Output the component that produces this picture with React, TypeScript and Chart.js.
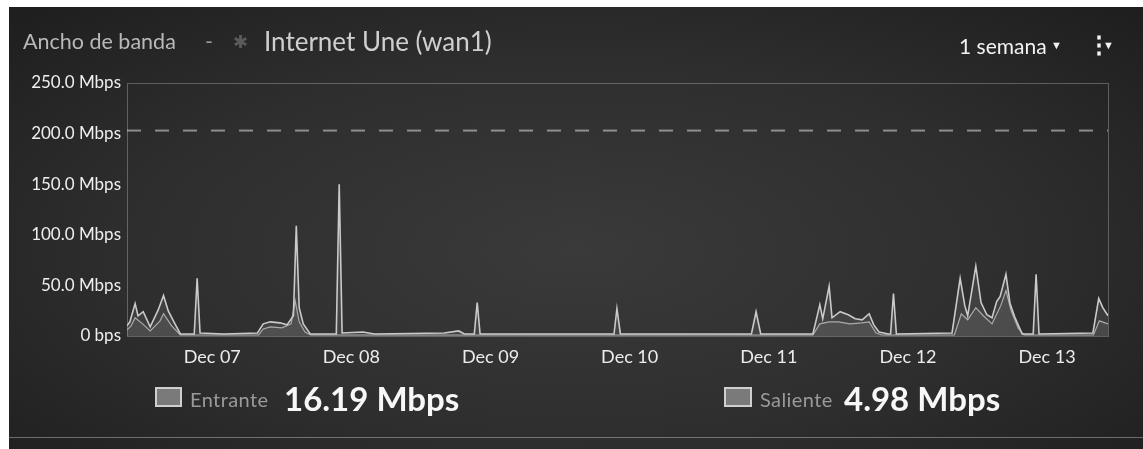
import React, { useEffect, useRef } from "react";
import { Chart, registerables } from "chart.js";

Chart.register(...registerables);

// ---- data (hours relative to Dec 07 00:00) ----
const rangeStartHour = -14.7;
const rangeEndHour = 154.5;

const dayHours = [0, 24, 48, 72, 96, 120, 144];
const dayLabels = ["Dec 07", "Dec 08", "Dec 09", "Dec 10", "Dec 11", "Dec 12", "Dec 13"];

const yTicks = [0, 50, 100, 150, 200, 250];
const yTickLabels = ["0 bps", "50.0 Mbps", "100.0 Mbps", "150.0 Mbps", "200.0 Mbps", "250.0 Mbps"];

const capacityMbps = 203;

const inHours = [
  -14.7, -14.2, -13.3, -12.8, -11.9, -10.7, -9.3, -8.4, -7.6, -6.7, -5.5, -3.1, -2.6, -2.1,
  2, 7.8, 8.8, 10, 11.7, 12.9, 14.0, 14.5, 15.0, 15.7, 16.9, 21.4, 21.9, 22.4,
  26, 28, 40, 42.5, 43.5, 45.2, 45.7, 46.2, 69.3, 69.8, 70.4, 93.0, 93.8, 94.6,
  103.6, 104.8, 105.3, 106.4, 106.9, 108.3, 109.7, 110.9, 112.1, 113.3, 114.1, 115, 116.6,
  117.0, 117.5, 118.0, 127.6, 129.0, 129.8, 130.3, 131.7, 132.6, 133.6, 134.5, 135.3, 135.9,
  136.9, 137.6, 138.4, 139.7, 141.6, 142.1, 142.6, 151.9, 152.9, 153.6, 154.5,
];
const inMbps = [
  10, 14, 32, 20, 24, 9, 26, 40, 25, 15, 2, 2, 57, 3,
  2, 3, 12, 14, 13, 11, 20, 109, 28, 12, 2, 2, 150, 3,
  4, 2, 3, 5, 2, 2, 33, 2, 2, 27, 2, 2, 24, 2,
  2, 31, 17, 49, 18, 24, 21, 17, 16, 22, 11, 4, 2,
  2, 42, 2, 3, 57, 30, 20, 69, 33, 21, 18, 34, 39,
  61, 32, 19, 2, 2, 61, 2, 3, 37, 28, 20,
];

const outHours = [
  -14.7, -14, -13.3, -12, -10.7, -9, -8.4, -7, -5.5, 8, 8.8, 10, 12, 13.6, 14.3, 15.0, 16, 17,
  103.6, 104.8, 106.4, 108, 110, 112, 113.3, 114.5, 115.5,
  128, 129.2, 130.3, 131.7, 133, 134.5, 136, 136.9, 137.8, 139, 140, 152, 153, 154.5,
];
const outMbps = [
  6, 10, 18, 12, 5, 15, 22, 10, 1, 1, 7, 9, 8, 12, 35, 14, 4, 1,
  1, 12, 14, 14, 12, 13, 14, 3, 1,
  1, 22, 16, 28, 20, 12, 30, 45, 25, 8, 1, 1, 15, 12,
];

const entranteAvg = "16.19 Mbps";
const salienteAvg = "4.98 Mbps";

const toPoints = (hs: number[], vs: number[]) => hs.map((h, i) => ({ x: h, y: vs[i] }));

const W = 1134;
const H = 442;

export default function App() {
  const ref = useRef<HTMLCanvasElement | null>(null);

  useEffect(() => {
    document.body.style.overflow = "hidden";
    const ctx = ref.current!.getContext("2d")!;
    const frame = {
      id: "frame",
      beforeDatasetsDraw(chart: any) {
        const { left, top, right, bottom } = chart.chartArea;
        const c = chart.ctx;
        c.save();
        c.strokeStyle = "rgba(200,200,200,0.35)";
        c.lineWidth = 1;
        c.strokeRect(Math.round(left) + 0.5, Math.round(top) + 0.5, right - left, bottom - top);
        c.restore();
      },
    };
    const chart = new Chart(ctx, {
      type: "line",
      data: {
        datasets: [
          {
            label: "Capacidad",
            data: toPoints([rangeStartHour, rangeEndHour], [capacityMbps, capacityMbps]),
            borderColor: "rgba(205,205,205,0.6)",
            borderWidth: 2,
            borderDash: [14, 14],
            pointRadius: 0,
            fill: false,
          },
          {
            label: "Entrante",
            data: toPoints(inHours, inMbps),
            borderColor: "#cacaca",
            borderWidth: 1.6,
            backgroundColor: "rgba(200,200,200,0.12)",
            fill: "origin",
            pointRadius: 0,
            tension: 0,
          },
          {
            label: "Saliente",
            data: toPoints(outHours, outMbps),
            borderColor: "#a8a8a8",
            borderWidth: 1.2,
            backgroundColor: "rgba(200,200,200,0.10)",
            fill: "origin",
            pointRadius: 0,
            tension: 0,
          },
        ],
      },
      options: {
        animation: false,
        responsive: false,
        maintainAspectRatio: false,
        layout: { padding: { left: 0, top: 76, right: 35, bottom: 83 } },
        plugins: { legend: { display: false }, tooltip: { enabled: false } },
        scales: {
          x: {
            type: "linear",
            min: rangeStartHour,
            max: rangeEndHour,
            afterBuildTicks: (s: any) => {
              s.ticks = dayHours.map((v) => ({ value: v }));
            },
            afterFit: (s: any) => {
              s.height = 30;
            },
            ticks: {
              callback: (v: any) => {
                const i = dayHours.indexOf(Number(v));
                return i >= 0 ? dayLabels[i] : "";
              },
              color: "#ececec",
              font: { family: "Lato", size: 18 },
              padding: 10,
              maxRotation: 0,
              autoSkip: false,
            },
            grid: { display: false, drawTicks: false },
            border: { display: false },
          },
          y: {
            min: 0,
            max: 250,
            afterBuildTicks: (s: any) => {
              s.ticks = yTicks.map((v) => ({ value: v }));
            },
            afterFit: (s: any) => {
              s.width = 118;
            },
            ticks: {
              callback: (v: any) => {
                const i = yTicks.indexOf(Number(v));
                return i >= 0 ? yTickLabels[i] : "";
              },
              color: "#efefef",
              font: { family: "Lato", size: 17 },
              padding: 6,
            },
            grid: { display: false, drawTicks: false },
            border: { display: false },
          },
        },
      },
      plugins: [frame],
    } as any);
    return () => chart.destroy();
  }, []);

  const abs = (l: number, t: number): React.CSSProperties => ({
    position: "absolute",
    left: l,
    top: t,
    whiteSpace: "nowrap",
    fontFamily: "Lato, 'Open Sans', sans-serif",
    lineHeight: 1.2,
  });

  return (
    <div
      style={{
        position: "fixed",
        left: 9,
        top: 7,
        width: W,
        height: H,
        background:
          "radial-gradient(ellipse at 50% 55%, #3a3a3a 0%, #2e2e2e 55%, #1e1e1e 100%)",
        overflow: "hidden",
      }}
    >
      <canvas ref={ref} width={W} height={H} style={{ position: "absolute", left: 0, top: 0, width: W, height: H }} />
      <div style={{ ...abs(14, 22), fontSize: 21.5, color: "#b9b9b9" }}>Ancho de banda</div>
      <div style={{ ...abs(196, 22), fontSize: 21.5, color: "#9a9a9a" }}>-</div>
      <div style={{ ...abs(224, 24), fontSize: 18, color: "#5a5a5a" }}>✱</div>
      <div style={{ ...abs(255, 19), fontSize: 26, color: "#cfcfcf" }}>Internet Une (wan1)</div>
      <div style={{ ...abs(950, 26), fontSize: 21, color: "#f2f2f2" }}>1 semana</div>
      <div style={{ ...abs(1042, 31), fontSize: 11, color: "#f2f2f2" }}>▼</div>
      <div style={{ ...abs(1078, 23), fontSize: 24, color: "#f2f2f2", fontWeight: 900 }}>⋮</div>
      <div style={{ ...abs(1094, 31), fontSize: 11, color: "#f2f2f2" }}>▼</div>

      <div
        style={{
          ...abs(146, 380),
          width: 27,
          height: 20,
          boxSizing: "border-box",
          border: "2px solid #cfcfcf",
          background: "#7a7a7a",
        }}
      />
      <div style={{ ...abs(181, 380), fontSize: 20, letterSpacing: 0.4, color: "#9a9a9a" }}>Entrante</div>
      <div style={{ ...abs(275, 372), fontSize: 33, color: "#f7f7f7", fontWeight: 700 }}>{entranteAvg}</div>

      <div
        style={{
          ...abs(715, 380),
          width: 28,
          height: 20,
          boxSizing: "border-box",
          border: "2px solid #cfcfcf",
          background: "#7a7a7a",
        }}
      />
      <div style={{ ...abs(751, 380), fontSize: 20, letterSpacing: 0.4, color: "#9a9a9a" }}>Saliente</div>
      <div style={{ ...abs(835, 372), fontSize: 33, color: "#f7f7f7", fontWeight: 700 }}>{salienteAvg}</div>
      <div style={{ position: "absolute", left: 0, top: 430, width: W, height: 1, background: "rgba(200,200,200,0.45)" }} />
    </div>
  );
}
